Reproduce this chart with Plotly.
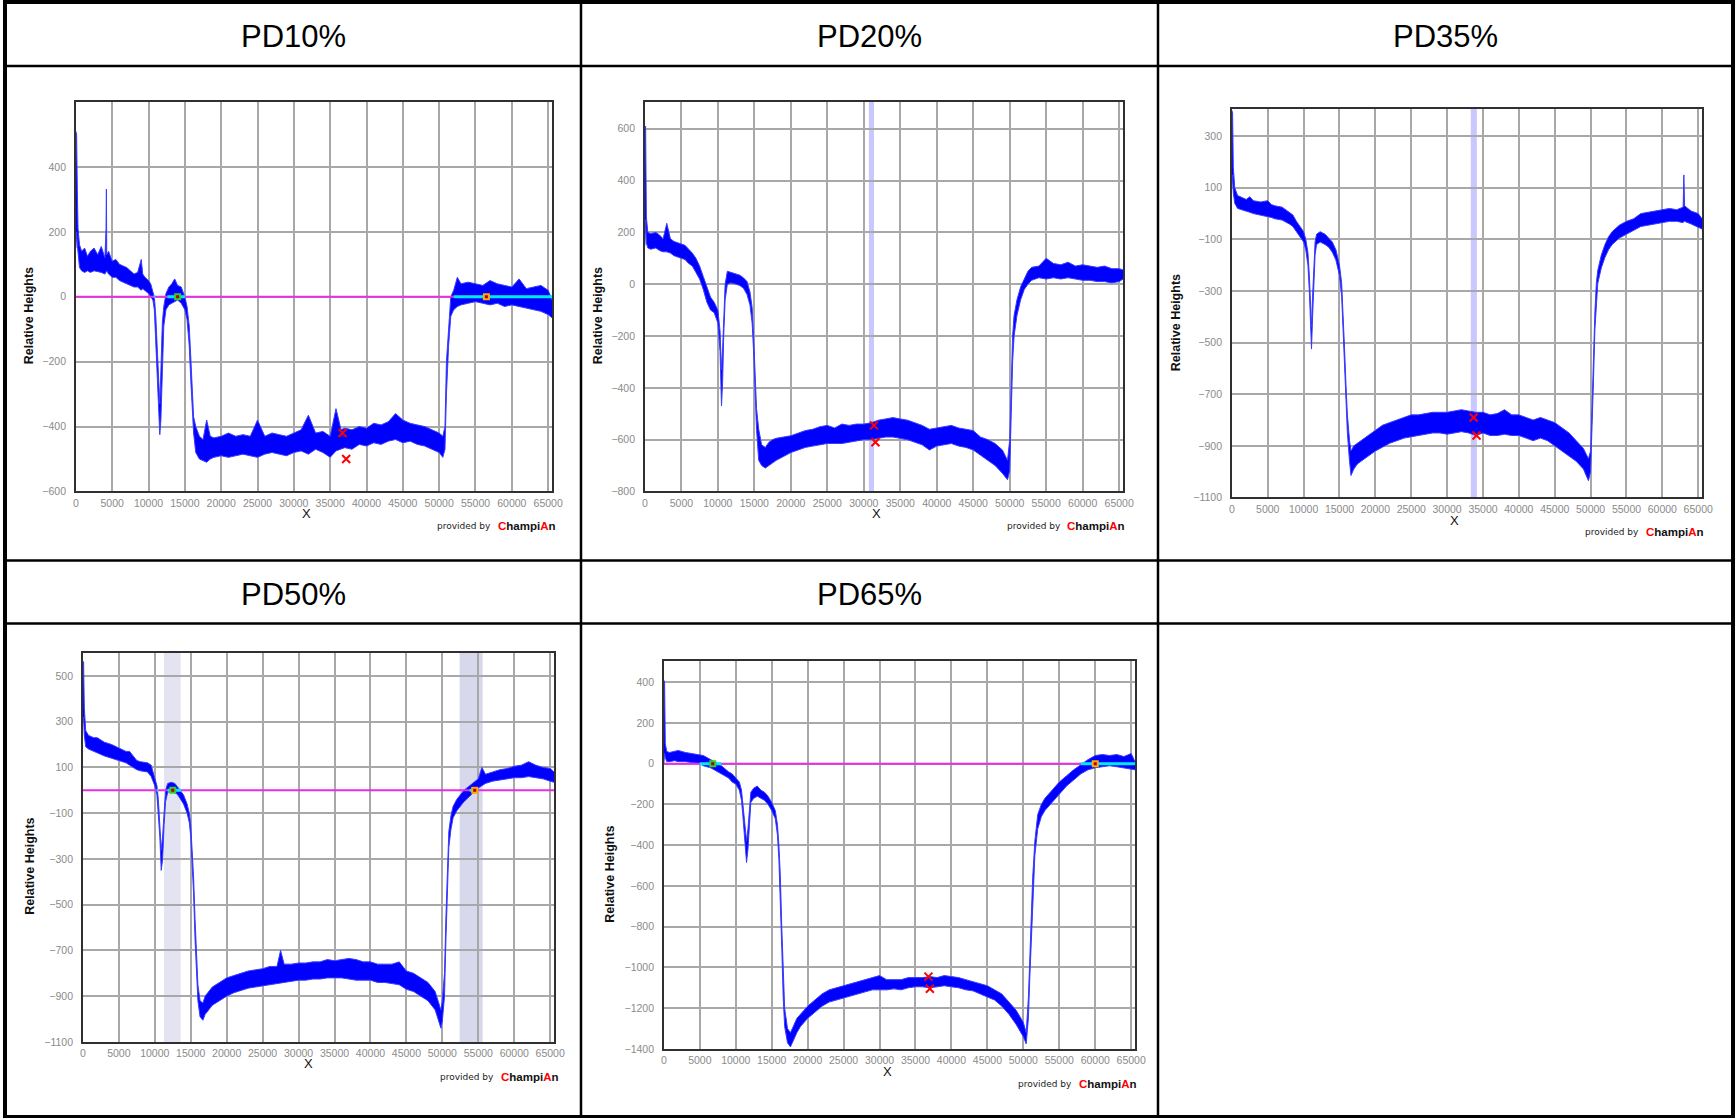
import plotly.graph_objects as go

W, H = 1735, 1118
SCALE = 1.0064  # compensation for the capture shrink observed in earlier rounds

# ---------------- data ----------------
titles = ["PD10%", "PD20%", "PD35%", "PD50%", "PD65%"]
x_ticks = [0, 5000, 10000, 15000, 20000, 25000, 30000, 35000, 40000, 45000, 50000, 55000, 60000, 65000]

# PD10%
p1_x = [0, 100, 200, 300, 500, 800, 1200, 1600, 2000, 2500, 3000, 3500, 4000, 4150, 4200, 4250, 4500, 5000, 5500, 6000, 6500, 7000, 7500, 8000, 8500, 9000, 9200, 9500, 10000, 10300, 10600, 10800, 11000, 11200, 11400, 11550, 11700, 11900, 12100, 12400, 12800, 13200, 13600, 14000, 14500, 15000, 15300, 15600, 15800, 16000, 16200, 16500, 17000, 17500, 18000, 18500, 19000, 20000, 21000, 22000, 23000, 24000, 25000, 26000, 27000, 28000, 29000, 30000, 31000, 32000, 33000, 34000, 35000, 35800, 36500, 37000, 38000, 39000, 40000, 41000, 42000, 43000, 44000, 45000, 46000, 47000, 48000, 49000, 50000, 50500, 50800, 51000, 51300, 51600, 52000, 52500, 53000, 54000, 55000, 56000, 57000, 58000, 59000, 60000, 61000, 62000, 63000, 64000, 65000, 65536]
p1_lo = [150, 200, 160, 140, 90, 80, 75, 80, 75, 80, 78, 75, 70, 75, 80, 80, 70, 60, 60, 50, 45, 40, 35, 30, 30, 20, 25, 20, 10, 0, -10, -40, -150, -260, -350, -425, -380, -200, -90, -40, -25, -20, -15, -10, -20, -40, -70, -150, -250, -350, -420, -480, -500, -505, -510, -500, -495, -490, -495, -490, -485, -490, -495, -485, -480, -485, -490, -480, -475, -485, -470, -480, -495, -475, -470, -465, -470, -455, -460, -450, -455, -445, -440, -450, -445, -455, -460, -470, -480, -495, -470, -300, -150, -60, -40, -30, -25, -20, -15, -20, -25, -20, -30, -25, -30, -35, -40, -45, -55, -65]
p1_hi = [510, 500, 330, 210, 160, 140, 150, 125, 140, 150, 130, 155, 120, 210, 332, 130, 140, 110, 115, 100, 95, 90, 80, 70, 75, 115, 70, 60, 50, 40, 15, 0, -60, -180, -250, -330, -230, -80, -30, 10, 30, 40, 55, 35, 30, 0, -30, -90, -180, -280, -370, -400, -430, -440, -380, -430, -435, -430, -420, -430, -425, -430, -380, -430, -420, -425, -430, -420, -410, -365, -420, -415, -430, -345, -410, -405, -410, -400, -405, -390, -395, -385, -360, -380, -390, -395, -400, -410, -420, -430, -400, -200, -80, 0, 20, 60, 40, 45, 40, 35, 50, 40, 35, 30, 55, 25, 30, 35, 20, -10]

# PD20%
p2_x = [0, 100, 200, 400, 800, 1500, 2000, 2500, 3000, 3500, 4000, 4500, 5000, 5500, 6000, 6500, 7000, 7500, 8000, 8500, 9000, 9500, 10000, 10300, 10500, 10650, 10800, 11000, 11300, 11800, 12500, 13000, 13500, 14000, 14400, 14700, 14900, 15100, 15300, 15600, 16000, 16500, 17000, 17500, 18000, 19000, 20000, 21000, 22000, 23000, 24000, 25000, 26000, 27000, 28000, 29000, 30000, 31000, 32000, 33000, 34000, 35000, 36000, 37000, 38000, 39000, 40000, 41000, 42000, 43000, 44000, 45000, 46000, 47000, 48000, 49000, 49700, 50000, 50200, 50400, 50600, 51000, 51500, 52000, 52500, 53000, 54000, 55000, 56000, 57000, 58000, 59000, 60000, 61000, 62000, 63000, 64000, 65000, 65536]
p2_lo = [150, 250, 160, 140, 135, 140, 130, 125, 125, 120, 110, 105, 100, 95, 80, 70, 45, 20, -20, -70, -100, -110, -150, -260, -470, -380, -200, -60, 0, 5, 0, -5, -15, -40, -80, -150, -260, -420, -560, -680, -700, -710, -700, -690, -680, -665, -650, -640, -630, -625, -620, -615, -615, -615, -610, -605, -600, -600, -595, -590, -590, -595, -600, -610, -620, -640, -625, -620, -615, -625, -630, -640, -660, -680, -700, -730, -755, -720, -500, -300, -200, -120, -60, -20, 0, 15, 25, 20, 25, 20, 25, 20, 15, 15, 10, 10, 5, 10, 20]
p2_hi = [600, 610, 260, 200, 195, 200, 190, 175, 235, 175, 165, 160, 155, 150, 135, 120, 100, 70, 30, -10, -50, -70, -100, -180, -330, -250, -120, 0, 50, 45, 40, 35, 25, 10, -30, -90, -200, -350, -480, -560, -620, -630, -610, -600, -595, -590, -585, -575, -565, -560, -550, -545, -555, -540, -545, -540, -540, -535, -525, -520, -515, -520, -525, -535, -545, -560, -555, -550, -545, -555, -560, -565, -590, -600, -615, -640, -680, -600, -400, -200, -120, -60, -10, 20, 50, 65, 70, 100, 80, 75, 85, 70, 75, 70, 65, 70, 60, 60, 55]

# PD35%
p3_x = [0, 100, 200, 400, 800, 1500, 2000, 2500, 3000, 4000, 5000, 5500, 6000, 7000, 8000, 8500, 9000, 9500, 10000, 10300, 10600, 10800, 11000, 11100, 11250, 11400, 11600, 11800, 12300, 13000, 13500, 14000, 14500, 15000, 15300, 15500, 15700, 15900, 16100, 16400, 16600, 17000, 17500, 18000, 19000, 20000, 21000, 22000, 23000, 24000, 25000, 26000, 27000, 28000, 29000, 30000, 31000, 32000, 33000, 34000, 35000, 36000, 37000, 38000, 39000, 40000, 41000, 42000, 43000, 44000, 45000, 46000, 47000, 48000, 49000, 49700, 50000, 50200, 50400, 50600, 50800, 51000, 51500, 52000, 52500, 53000, 54000, 55000, 56000, 57000, 58000, 59000, 60000, 61000, 62000, 62900, 63000, 63100, 64000, 65000, 65536]
p3_lo = [100, 150, 80, 40, 20, 15, 10, 5, 0, -5, -10, -15, -20, -25, -40, -50, -70, -90, -110, -140, -200, -300, -450, -525, -400, -260, -160, -120, -110, -120, -130, -150, -180, -240, -320, -450, -600, -720, -850, -960, -1015, -990, -970, -960, -940, -920, -905, -890, -880, -870, -865, -860, -855, -850, -850, -855, -850, -845, -850, -860, -850, -860, -860, -855, -860, -860, -870, -880, -870, -880, -900, -920, -940, -960, -990, -1035, -1000, -850, -650, -450, -330, -270, -210, -170, -140, -120, -95, -80, -65, -50, -45, -40, -35, -30, -30, -35, -30, -30, -40, -55, -60]
p3_hi = [400, 390, 180, 100, 70, 60, 55, 65, 50, 45, 50, 35, 30, 25, 5, -5, -30, -50, -70, -100, -150, -240, -380, -440, -320, -200, -110, -80, -70, -80, -95, -110, -140, -200, -270, -380, -520, -660, -780, -880, -920, -900, -890, -880, -860, -840, -820, -810, -800, -790, -780, -780, -775, -770, -770, -770, -765, -760, -765, -770, -770, -780, -775, -760, -780, -780, -790, -800, -790, -800, -810, -830, -850, -880, -910, -950, -920, -750, -550, -380, -270, -220, -160, -120, -90, -70, -45, -30, -20, 0, 5, 10, 15, 20, 15, 25, 150, 30, 10, 0, -20]

# PD50%
p4_x = [0, 100, 200, 400, 800, 1500, 2000, 3000, 4000, 5000, 6000, 6500, 7000, 7500, 8000, 9000, 9500, 10000, 10300, 10500, 10700, 10900, 11100, 11300, 11500, 11800, 12300, 12800, 13200, 13600, 14000, 14500, 14800, 15000, 15200, 15400, 15600, 15800, 16000, 16300, 16700, 17000, 17500, 18000, 19000, 20000, 21000, 22000, 23000, 24000, 25000, 26000, 27000, 27500, 28000, 29000, 30000, 31000, 32000, 33000, 34000, 35000, 36000, 37000, 38000, 39000, 40000, 41000, 42000, 43000, 44000, 45000, 46000, 47000, 48000, 49000, 49800, 50000, 50300, 50500, 50700, 50900, 51200, 51500, 52000, 52500, 53000, 54000, 55000, 55500, 56000, 57000, 58000, 59000, 60000, 61000, 62000, 63000, 64000, 65000, 65536]
p4_lo = [300, 320, 240, 190, 180, 170, 165, 150, 140, 130, 120, 110, 100, 90, 85, 80, 60, 20, -20, -100, -200, -350, -300, -150, -50, -10, 0, -10, -20, -40, -60, -100, -140, -200, -300, -450, -650, -800, -920, -990, -1005, -980, -960, -940, -920, -900, -885, -875, -865, -860, -855, -850, -845, -840, -840, -835, -830, -830, -825, -825, -820, -820, -820, -825, -830, -830, -830, -840, -840, -845, -850, -870, -880, -900, -920, -960, -1040, -1010, -900, -650, -400, -250, -170, -120, -90, -70, -50, -20, 10, 20, 30, 40, 45, 50, 55, 55, 60, 55, 50, 40, 35]
p4_hi = [565, 560, 360, 260, 240, 230, 230, 210, 200, 185, 170, 170, 150, 130, 125, 120, 110, 60, 20, -40, -130, -260, -200, -80, 0, 30, 35, 30, 15, 0, -20, -60, -100, -150, -250, -380, -560, -720, -850, -920, -930, -900, -880, -860, -840, -820, -810, -800, -790, -785, -780, -770, -770, -700, -760, -760, -755, -755, -750, -750, -740, -745, -740, -735, -740, -750, -750, -760, -760, -760, -750, -790, -800, -820, -840, -880, -960, -920, -800, -550, -320, -180, -110, -70, -40, -20, 0, 25, 50, 100, 70, 80, 90, 95, 105, 110, 125, 110, 100, 95, 80]

# PD65%
p5_x = [0, 100, 200, 400, 800, 1500, 2000, 3000, 4000, 5000, 5500, 6000, 6500, 7000, 7500, 8000, 8500, 9000, 9500, 10000, 10500, 10800, 11000, 11200, 11500, 11700, 11900, 12100, 12500, 13000, 13500, 14000, 14500, 15000, 15500, 15800, 16000, 16200, 16400, 16600, 16800, 17200, 17600, 18000, 18500, 19000, 20000, 21000, 22000, 23000, 24000, 25000, 26000, 27000, 28000, 29000, 30000, 31000, 32000, 33000, 34000, 35000, 36000, 37000, 38000, 39000, 40000, 41000, 42000, 43000, 44000, 45000, 46000, 47000, 48000, 49000, 50000, 50400, 50700, 50900, 51100, 51300, 51600, 52000, 52500, 53000, 54000, 55000, 56000, 57000, 58000, 59000, 60000, 61000, 62000, 63000, 64000, 65000, 65536]
p5_lo = [0, 50, 30, 10, 10, 15, 10, 10, 5, 0, -10, -15, -20, -30, -40, -50, -60, -70, -90, -100, -130, -180, -260, -370, -485, -420, -280, -190, -170, -160, -170, -180, -200, -230, -270, -350, -470, -650, -900, -1150, -1290, -1370, -1390, -1360, -1320, -1290, -1250, -1220, -1190, -1170, -1160, -1150, -1140, -1130, -1120, -1110, -1110, -1110, -1105, -1110, -1100, -1095, -1095, -1100, -1095, -1090, -1095, -1100, -1110, -1115, -1130, -1145, -1160, -1190, -1230, -1280, -1340, -1375, -1250, -1050, -850, -650, -450, -320, -260, -230, -190, -150, -110, -80, -50, -30, -20, -15, -10, -15, -20, -25, -30]
p5_hi = [410, 400, 100, 60, 55, 60, 65, 55, 50, 45, 40, 30, 20, 10, 0, -10, -25, -40, -50, -70, -90, -130, -200, -300, -380, -320, -200, -140, -120, -110, -130, -140, -160, -190, -230, -300, -400, -550, -800, -1050, -1200, -1300, -1320, -1290, -1250, -1230, -1190, -1160, -1130, -1110, -1100, -1090, -1080, -1070, -1060, -1050, -1040, -1060, -1060, -1060, -1050, -1050, -1050, -1045, -1050, -1040, -1045, -1050, -1060, -1070, -1080, -1090, -1110, -1130, -1170, -1210, -1270, -1320, -1150, -950, -750, -560, -380, -250, -200, -170, -130, -90, -60, -30, -5, 20, 40, 45, 40, 45, 35, 50, 10]

# annotations data: red x marks, highlight bands, zero-level segments, key points
p1_marks_x, p1_marks_y = [36700, 37200], [-420, -500]
p2_marks_x, p2_marks_y = [31400, 31600], [-545, -610]
p3_marks_x, p3_marks_y = [33700, 34100], [-790, -860]
p5_marks_x, p5_marks_y = [36800, 37000], [-1045, -1105]

p2_bands = [(30700, 31400)]
p3_bands = [(33300, 34150)]
p4_bands = [(11300, 13600), (52400, 55600)]

p1_cyan = [(10700, 10900), (12600, 15000), (52000, 65536)]
p4_cyan = [(10300, 10500), (11800, 13700), (53800, 55000)]
p5_cyan = [(5000, 8000), (58000, 65536)]

p1_keys = [(14000, "green"), (56500, "orange")]
p4_keys = [(12500, "green"), (54500, "orange")]
p5_keys = [(6800, "green"), (60000, "orange")]

y_ticks = [
    [-600, -400, -200, 0, 200, 400],
    [-800, -600, -400, -200, 0, 200, 400, 600],
    [-1100, -900, -700, -500, -300, -100, 100, 300],
    [-1100, -900, -700, -500, -300, -100, 100, 300, 500],
    [-1400, -1200, -1000, -800, -600, -400, -200, 0, 200, 400],
]
y_ranges = [[-600, 600], [-800, 703], [-1100, 405], [-1100, 602], [-1400, 506]]

# ---------------- layout geometry (pixels) ----------------
plots_px = [  # left, right, top, bottom
    (73, 550, 102, 491),
    (643, 1122, 102, 491),
    (1231, 1702, 109, 497),
    (80, 552, 652, 1041),
    (662, 1134, 660, 1048),
]
ytitle_px = [(26, 315), (596, 315), (1175, 322), (27, 865), (608, 873)]
xtitle_px = [(304, 513), (875, 513), (1454, 520), (306, 1063), (886, 1071)]
prov_px = [(491, 556, 526), (1062, 1126, 526), (1641, 1706, 532), (494, 559, 1076), (1073, 1138, 1083)]
header_px = [(291, 36), (868, 36), (1445, 36), (291, 594), (868, 594)]


def px(x):
    return x / W


def py(y):
    return 1 - y / H


fig = go.Figure()

series = [(p1_x, p1_lo, p1_hi), (p2_x, p2_lo, p2_hi), (p3_x, p3_lo, p3_hi),
          (p4_x, p4_lo, p4_hi), (p5_x, p5_lo, p5_hi)]
marks = [(p1_marks_x, p1_marks_y), (p2_marks_x, p2_marks_y), (p3_marks_x, p3_marks_y), None,
         (p5_marks_x, p5_marks_y)]
bands = [[], p2_bands, p3_bands, p4_bands, []]
band_colors = [None, ["#c8c8ff"], ["#c8c8ff"], ["#e3e3f1", "#d8d8ec"], None]
cyans = [p1_cyan, None, None, p4_cyan, p5_cyan]
keys = [p1_keys, None, None, p4_keys, p5_keys]
zero_line = [True, False, False, True, True]

shapes = []
annotations = []
layout_axes = {}

for i in range(5):
    n = "" if i == 0 else str(i + 1)
    xa, ya = "x" + n, "y" + n
    L, R, T, B = plots_px[i]
    layout_axes["xaxis" + n] = dict(
        domain=[px(L), px(R)], anchor=ya, range=[0, 65536], tickvals=x_ticks,
        ticktext=[str(v) for v in x_ticks], showgrid=True, gridcolor="#a8a8a8", gridwidth=1.5,
        zeroline=False, showline=True, linecolor="#303030", linewidth=1.5, mirror=True,
        tickfont=dict(family="Liberation Sans, Arial, sans-serif", size=10.5, color="#8a8a8a"),
        ticks="", ticklabelstandoff=1, fixedrange=True)
    layout_axes["yaxis" + n] = dict(
        domain=[py(B), py(T)], anchor=xa, range=y_ranges[i], tickvals=y_ticks[i],
        showgrid=True, gridcolor="#a8a8a8", gridwidth=1.5,
        zeroline=False, showline=True, linecolor="#303030", linewidth=1.5, mirror=True,
        tickfont=dict(family="Liberation Sans, Arial, sans-serif", size=10.5, color="#8a8a8a"),
        ticks="", ticklabelstandoff=6, fixedrange=True)

    for j, (b0, b1) in enumerate(bands[i]):
        shapes.append(dict(type="rect", xref=xa, yref=ya + " domain", x0=b0, x1=b1, y0=0, y1=1,
                           fillcolor=band_colors[i][j], line_width=0, layer="below"))

    xs, lo, hi = series[i]
    fig.add_trace(go.Scatter(x=xs, y=lo, xaxis=xa, yaxis=ya, mode="lines",
                             line=dict(color="#3a3aff", width=1), hoverinfo="skip", showlegend=False))
    fig.add_trace(go.Scatter(x=xs, y=hi, xaxis=xa, yaxis=ya, mode="lines", fill="tonexty",
                             fillcolor="#0000ff", line=dict(color="#3a3aff", width=1),
                             hoverinfo="skip", showlegend=False))

    if zero_line[i]:
        fig.add_trace(go.Scatter(x=[0, 65536], y=[0, 0], xaxis=xa, yaxis=ya, mode="lines",
                                 line=dict(color="#e62ee6", width=2), hoverinfo="skip", showlegend=False))
    if cyans[i]:
        for (c0, c1) in cyans[i]:
            fig.add_trace(go.Scatter(x=[c0, c1], y=[0, 0], xaxis=xa, yaxis=ya, mode="lines",
                                     line=dict(color="#00e8f0", width=3), hoverinfo="skip",
                                     showlegend=False))
    if keys[i]:
        for (kx, kc) in keys[i]:
            col = "#33cc33" if kc == "green" else "#ffaa00"
            fig.add_trace(go.Scatter(x=[kx], y=[0], xaxis=xa, yaxis=ya, mode="markers",
                                     marker=dict(symbol="square", size=7, color=col, line=dict(width=0)),
                                     hoverinfo="skip", showlegend=False))
            fig.add_trace(go.Scatter(x=[kx], y=[0], xaxis=xa, yaxis=ya, mode="markers",
                                     marker=dict(symbol="square", size=3, color="#b00000", line=dict(width=0)),
                                     hoverinfo="skip", showlegend=False))
    if marks[i]:
        mx, my = marks[i]
        fig.add_trace(go.Scatter(x=mx, y=my, xaxis=xa, yaxis=ya, mode="markers",
                                 marker=dict(symbol="x-thin", size=8, color="#ff0000",
                                             line=dict(color="#ff0000", width=2)),
                                 hoverinfo="skip", showlegend=False))

    tx, ty = ytitle_px[i]
    annotations.append(dict(x=px(tx), y=py(ty), xref="paper", yref="paper", text="<b>Relative Heights</b>",
                            textangle=-90, showarrow=False, xanchor="center", yanchor="middle",
                            font=dict(family="Liberation Sans, Arial, sans-serif", size=12.5, color="#111")))
    tx, ty = xtitle_px[i]
    annotations.append(dict(x=px(tx), y=py(ty), xref="paper", yref="paper", text="X",
                            showarrow=False, xanchor="center", yanchor="middle",
                            font=dict(family="Liberation Sans, Arial, sans-serif", size=13, color="#111")))
    p0, p1, pyy = prov_px[i]
    annotations.append(dict(x=px(p0), y=py(pyy), xref="paper", yref="paper", text="provided by",
                            showarrow=False, xanchor="right", yanchor="middle",
                            font=dict(family="DejaVu Sans, sans-serif", size=9, color="#222")))
    annotations.append(dict(x=px(p1), y=py(pyy), xref="paper", yref="paper",
                            text="<b><span style='color:#ff0000'>C</span>hampi<span style='color:#ff0000'>A</span>n</b>",
                            showarrow=False, xanchor="right", yanchor="middle",
                            font=dict(family="Liberation Sans, Arial, sans-serif", size=11.5, color="#111")))
    hx, hy = header_px[i]
    annotations.append(dict(x=px(hx), y=py(hy), xref="paper", yref="paper", text=titles[i],
                            showarrow=False, xanchor="center", yanchor="middle",
                            font=dict(family="Liberation Sans Narrow, Arial Narrow, Liberation Sans, sans-serif",
                                      size=31, color="#000")))


def hline(y, x0, x1, w):
    return dict(type="line", xref="paper", yref="paper", x0=px(x0), x1=px(x1), y0=py(y), y1=py(y),
                line=dict(color="#000", width=w), layer="above")


def vline(x, y0, y1, w):
    return dict(type="line", xref="paper", yref="paper", x0=px(x), x1=px(x), y0=py(y0), y1=py(y1),
                line=dict(color="#000", width=w), layer="above")


shapes += [
    hline(2, 0, W, 4), hline(1116, 0, W, 4), vline(2, 0, H, 4), vline(1733, 0, H, 4),
    hline(66, 0, W, 2.5), hline(560, 0, W, 2.5), hline(623, 0, W, 2.5),
    vline(579, 0, H, 2.5), vline(1157, 0, H, 2.5),
]

fig.update_layout(width=round(W * SCALE), height=round(H * SCALE), margin=dict(l=0, r=0, t=0, b=0),
                  paper_bgcolor="white", plot_bgcolor="white", showlegend=False,
                  shapes=shapes, annotations=annotations, **layout_axes)

css_fix = (
    "var de=document.documentElement, b=document.body;"
    "[de,b].forEach(function(e){e.style.margin='0';e.style.padding='0';"
    "e.style.lineHeight='0';e.style.fontSize='0';});"
)
fig.write_html("out.html", config={"responsive": False, "displayModeBar": False}, post_script=css_fix)
